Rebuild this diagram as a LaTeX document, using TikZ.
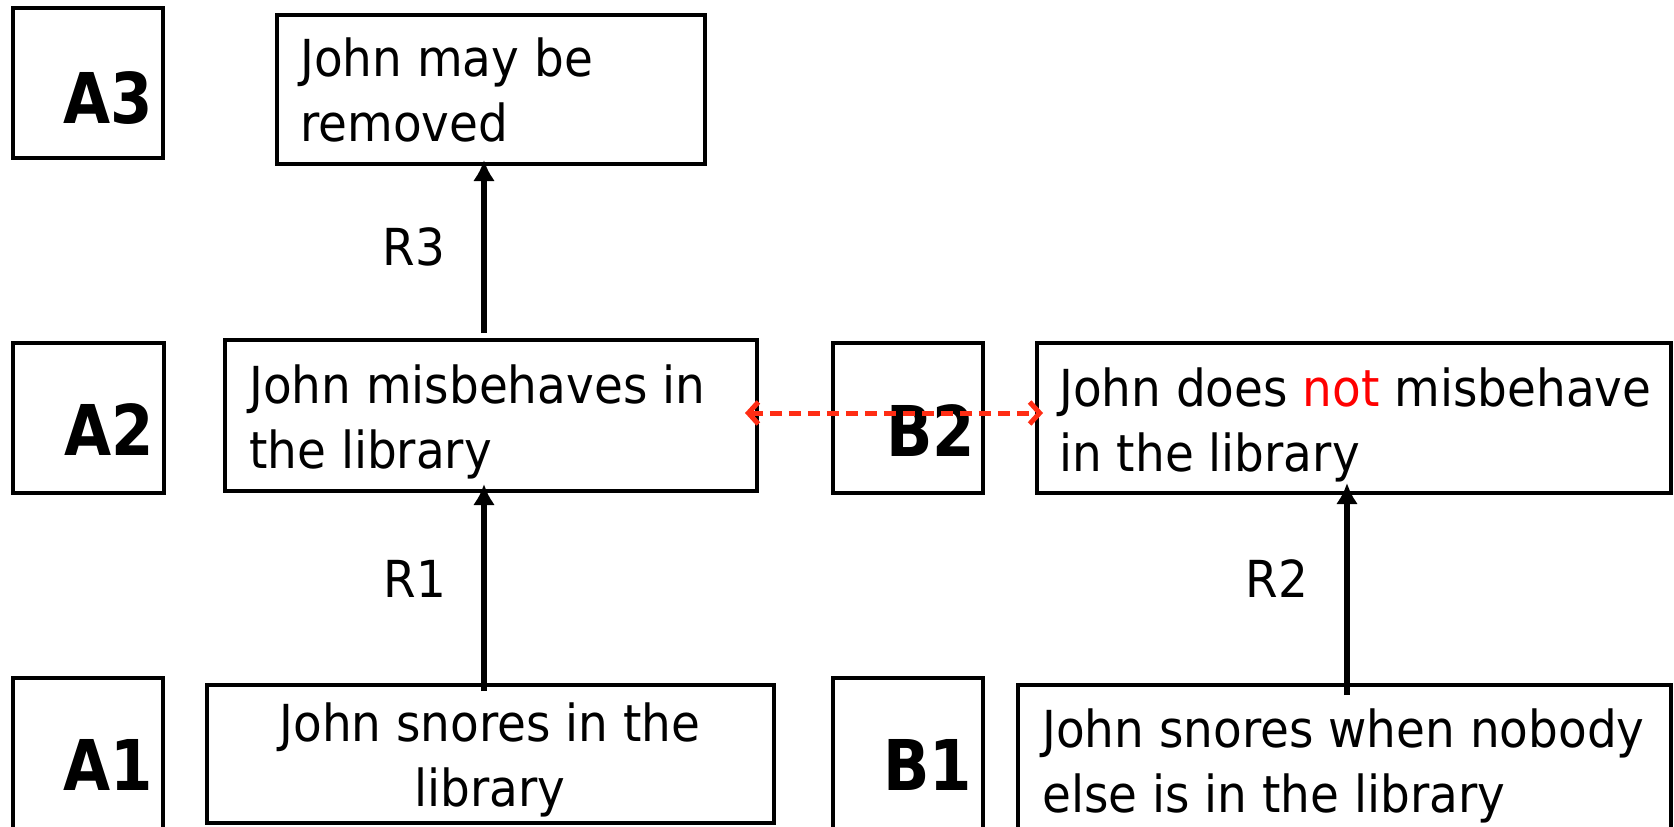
\documentclass[tikz,border=0pt]{standalone}
\usepackage{fontspec}
\setmainfont{DejaVu Sans}[FakeStretch=0.92]
\newfontfamily\lblfont{DejaVu Sans}[FakeStretch=0.87]
\usetikzlibrary{arrows.meta}
\definecolor{dashred}{RGB}{255,45,20}
\definecolor{notred}{RGB}{255,0,0}
\newcommand\twoline[3][l]{\begin{tabular}[t]{@{}#1@{}}#2\\#3\end{tabular}}
\begin{document}
\begin{tikzpicture}[x=1pt,y=-1pt,
  box/.style={draw, line width=3.3pt, inner sep=0pt, outer sep=0pt, anchor=north west},
  lbl/.style={font=\lblfont\bfseries\fontsize{70}{84}\selectfont, inner sep=0pt},
  txt/.style={font=\fontsize{51}{65}\selectfont, inner sep=0pt},
  arr/.style={line width=5.5pt, -{Latex[length=21pt,width=22pt]}},
  rarr/.style={draw=dashred, line width=5pt, dash pattern=on 12pt off 7pt,
    {Straight Barb[length=10pt,width=22pt]}-{Straight Barb[length=10pt,width=22pt]}}]
\useasboundingbox (0,0) rectangle (1674,827);
% boxes
\node[box, minimum width=150pt, minimum height=150pt] (A3) at (13,8) {};
\node[box, minimum width=428pt, minimum height=149pt] (A3t) at (277,15) {};
\node[box, minimum width=151pt, minimum height=150pt] (A2) at (13,343) {};
\node[box, minimum width=532pt, minimum height=151pt] (A2t) at (225,340) {};
\node[box, minimum width=150pt, minimum height=150pt] (B2) at (833,343) {};
\node[box, minimum width=634pt, minimum height=150pt] (B2t) at (1037,343) {};
\node[box, minimum width=150pt, minimum height=154pt] (A1) at (13,678) {};
\node[box, minimum width=567pt, minimum height=138pt] (A1t) at (207,685) {};
\node[box, minimum width=150pt, minimum height=154pt] (B1) at (833,678) {};
\node[box, minimum width=653pt, minimum height=150pt] (B1t) at (1018,685) {};
% labels
\node[lbl, anchor=base east] (A3l) at (153,123) {A3};
\node[lbl, anchor=base east] (A2l) at (154,455) {A2};
\node[lbl, anchor=base east] (A1l) at (153,790) {A1};
\node[lbl, anchor=base east] (B2l) at (975,456) {B2};
\node[lbl, anchor=base east] (B1l) at (972,790) {B1};
% texts
\node[txt, anchor=base west] (A3x) at (300,76) {\twoline{John may be}{removed}};
\node[txt, anchor=base west] (A2x) at (249,403) {\twoline{John misbehaves in}{the library}};
\node[txt, anchor=base west] (B2x) at (1059,406) {\twoline{John does \textcolor{notred}{not} misbehave}{in the library}};
\node[txt, anchor=base] (A1x) at (490,741) {\twoline[c]{John snores in the}{library}};
\node[txt, anchor=base west] (B1x) at (1042,747) {\twoline{John snores when nobody}{else is in the library}};
\node[txt, anchor=base] (R3) at (414,265) {R3};
\node[txt, anchor=base] (R1) at (415,597) {R1};
\node[txt, anchor=base] (R2) at (1277,597) {R2};
% connectors
\coordinate (xa) at (484,0);
\coordinate (xb) at (1347,0);
\coordinate (yr) at (0,413);
\draw[arr, shorten <=7pt, shorten >=-4pt] (A2t.north -| xa) -- (A3t.south -| xa);
\draw[arr, shorten <=-6pt, shorten >=-7pt] (A1t.north -| xa) -- (A2t.south -| xa);
\draw[arr, shorten <=-10pt, shorten >=-10pt] (B1t.north -| xb) -- (B2t.south -| xb);
\draw[rarr, shorten <=-12pt, shorten >=-6pt] (A2t.east |- yr) -- (B2t.west |- yr);
\end{tikzpicture}
\end{document}
